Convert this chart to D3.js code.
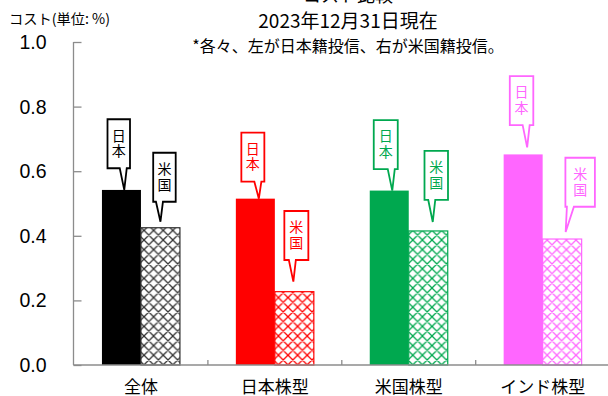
<!DOCTYPE html>
<html><head><meta charset="utf-8">
<script src="https://cdn.jsdelivr.net/npm/d3@7"></script>
<style>
html,body{margin:0;padding:0;background:#fff;overflow:hidden;}
svg{display:block;}
</style>
</head><body>
<svg id="chart" width="608" height="396"></svg>
<script>
// ---- data ----
const categories = ["全体", "日本株型", "米国株型", "インド株型"];
const seriesNames = ["日本", "米国"];
const japanValues = [0.542, 0.515, 0.540, 0.652];
const usValues = [0.425, 0.227, 0.415, 0.390];
const yTicks = [0, 0.2, 0.4, 0.6, 0.8, 1.0];
const categoryColors = ["#000000", "#ff0000", "#00a84f", "#ff66ff"];
const titleLines = ["コスト比較", "2023年12月31日現在", "*各々、左が日本籍投信、右が米国籍投信。"];
const yAxisTitle = "コスト(単位: %)";

// callout layout (offsets relative to each bar's centre and top)
const calloutBoxDx = [[-2.7, 4], [-2.5, 2], [-3.5, 8], [-1.6, 18]];
const calloutBoxGap = [[21.7, 26], [17, 31.7], [21.4, 31], [29.3, 32.3]];
const calloutTipDx = [[2.8, 0], [3.5, -1], [3, 4.5], [4, 3.5]];
const calloutTipGap = [[0, 6], [0, 10], [0, 9], [7, 7]];
const calloutWidth = [[22.5, 22.5], [23, 24], [24, 23.5], [23.5, 29.5]];
const calloutHeight = 49;

const svg = d3.select("#chart");
const fontJP = "'Noto Sans CJK JP','Noto Sans',sans-serif";

const x = d3.scaleBand().domain(categories).range([74, 609.6]).paddingInner(0.4175).paddingOuter(0.4175 / 2);
const xs = d3.scaleBand().domain(seriesNames).range([0, x.bandwidth()]);
const y = d3.scaleLinear().domain([0, 1]).range([365, 42]);

// patterns
const defs = svg.append("defs");
categoryColors.forEach((c, i) => {
  const p = defs.append("pattern").attr("id", "hatch" + i)
    .attr("patternUnits", "userSpaceOnUse").attr("width", 9.6).attr("height", 9.6);
  p.append("rect").attr("width", 9.6).attr("height", 9.6).attr("fill", "#fff");
  p.append("path").attr("d", "M0,0L9.6,9.6M9.6,0L0,9.6M-1,8.6L1,10.6M8.6,-1L10.6,1M-1,1L1,-1M8.6,10.6L10.6,8.6")
    .attr("stroke", i === 0 ? "#333" : c).attr("stroke-width", 1.3).attr("fill", "none");
});

// titles
svg.append("text").attr("x", 348).attr("y", 2).attr("text-anchor", "middle")
  .style("font-family", fontJP).style("font-size", "18px").text(titleLines[0]);
svg.append("text").attr("x", 348).attr("y", 19).attr("dominant-baseline", "central").attr("text-anchor", "middle")
  .style("font-family", fontJP).style("font-size", "19px").text(titleLines[1]);
svg.append("text").attr("x", 348).attr("y", 44.5).attr("dominant-baseline", "central").attr("text-anchor", "middle")
  .style("font-family", fontJP).style("font-size", "16px").text(titleLines[2]);
svg.append("text").attr("x", 9).attr("y", 17.5).attr("dominant-baseline", "central")
  .style("font-family", fontJP).style("font-size", "14px").attr("textLength", 101).attr("lengthAdjust", "spacingAndGlyphs").text(yAxisTitle);

// bars
const barData = [];
categories.forEach((cat, i) => {
  [japanValues[i], usValues[i]].forEach((v, j) => barData.push({cat, i, j, v}));
});
svg.append("g").selectAll("rect").data(barData).join("rect")
  .attr("x", d => x(d.cat) + xs(seriesNames[d.j]))
  .attr("y", d => y(d.v))
  .attr("width", xs.bandwidth())
  .attr("height", d => y(0) - y(d.v))
  .attr("fill", d => d.j === 0 ? categoryColors[d.i] : `url(#hatch${d.i})`)
  .attr("stroke", d => d.j === 0 ? "none" : (d.i === 0 ? "#333" : categoryColors[d.i]))
  .attr("stroke-width", 1.2);

// axes
const axisColor = "#8c8c8c";
const yAxis = svg.append("g").attr("transform", "translate(73.5,0)")
  .call(d3.axisRight(y).tickValues(yTicks).tickSize(8).tickFormat(""));
yAxis.select(".domain").attr("stroke", axisColor).attr("stroke-width", 1.3).attr("d", `M0,${y(1)}V${y(0)}`);
yAxis.selectAll(".tick line").attr("stroke", axisColor).attr("stroke-width", 1.3);
svg.append("g").selectAll("text").data(yTicks).join("text")
  .attr("x", 46.5).attr("y", d => y(d)).attr("text-anchor", "end").attr("dominant-baseline", "central")
  .style("font-family", "'Liberation Sans',Arial,sans-serif").style("font-size", "19.5px")
  .text(d => d3.format(".1f")(d));

const xAxis = svg.append("g").attr("transform", `translate(0,${y(0)})`)
  .call(d3.axisBottom(x).tickSize(0).tickFormat(""));
xAxis.select(".domain").attr("stroke", axisColor).attr("stroke-width", 1.3).attr("d", "M73.5,0H608");
const bounds = categories.slice(1).map(c => x(c) - x.step() * x.paddingInner() / 2);
svg.append("g").selectAll("line").data(bounds).join("line")
  .attr("x1", d => d).attr("x2", d => d).attr("y1", y(0) - 5).attr("y2", y(0))
  .attr("stroke", axisColor).attr("stroke-width", 1.3);
svg.append("g").selectAll("text").data(categories).join("text")
  .attr("x", d => x(d) + x.bandwidth() / 2).attr("y", 385)
  .attr("text-anchor", "middle").attr("dominant-baseline", "central")
  .style("font-family", fontJP).style("font-size", "17px").text(d => d);

// callouts
const cg = svg.append("g");
barData.forEach(d => {
  const color = categoryColors[d.i];
  const cx = x(d.cat) + xs(seriesNames[d.j]) + xs.bandwidth() / 2;
  const top = y(d.v);
  const w = calloutWidth[d.i][d.j], h = calloutHeight;
  const bcx = cx + calloutBoxDx[d.i][d.j];
  const B = top - calloutBoxGap[d.i][d.j], T = B - h;
  const L = bcx - w / 2, R = bcx + w / 2;
  const tx = cx + calloutTipDx[d.i][d.j], ty = top - calloutTipGap[d.i][d.j];
  const bx = Math.max(L + 5, Math.min(R - 5, tx - 1));
  const path = `M${L},${T}H${R}V${B}H${bx + 3.5}L${tx},${ty}L${bx - 3.5},${B}H${L}Z`;
  cg.append("path").attr("d", path).attr("fill", "#fff").attr("stroke", color).attr("stroke-width", 1.8).attr("stroke-linejoin", "miter");
  cg.append("text").attr("x", bcx).attr("y", T + h / 2)
    .attr("text-anchor", "middle")
    .style("writing-mode", "vertical-rl").style("letter-spacing", "1.5px")
    .style("font-family", fontJP).style("font-size", "14px").attr("fill", color).text(seriesNames[d.j]);
});
</script>
</body></html>
